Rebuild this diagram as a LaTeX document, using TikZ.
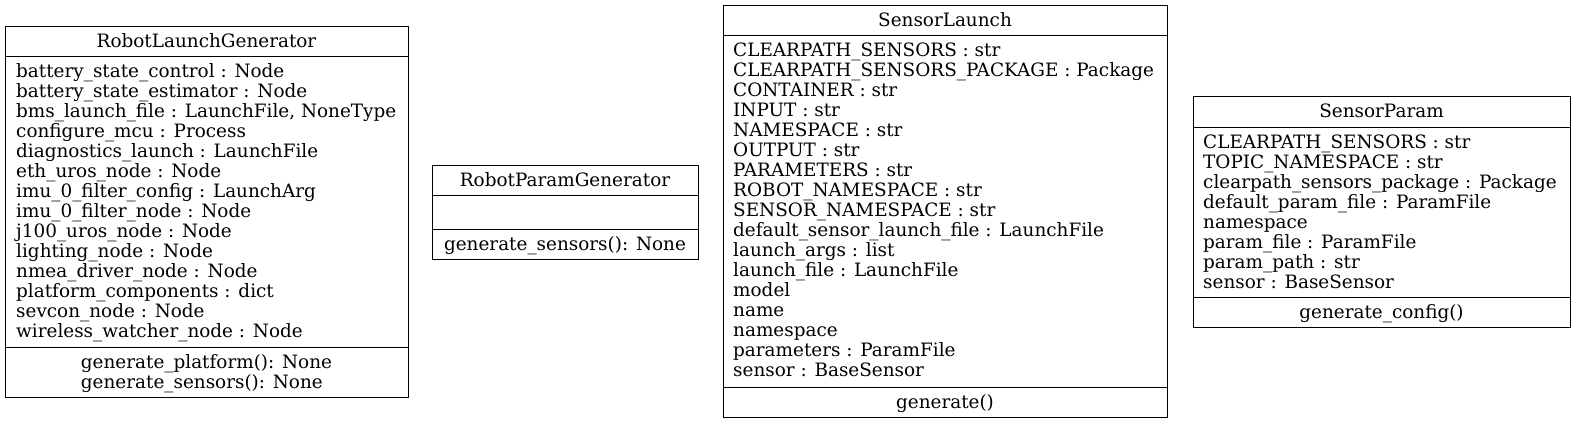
\documentclass[tikz,border=0pt]{standalone}
\usepackage{fontspec}
\setmainfont{DejaVu Serif}
\newcommand\umlfs{\fontsize{18.4}{20}\selectfont}
\tikzset{
  cls/.style={draw=black, line width=1pt, inner sep=0pt, anchor=north west},
  sepline/.style={draw=black, line width=1pt},
  txt/.style={inner sep=0pt, font=\umlfs},
}
\begin{document}
\begin{tikzpicture}[x=1pt,y=-1pt]
\useasboundingbox (0,0) rectangle (1575,424);

% ---------- RobotLaunchGenerator ----------
\node[cls, minimum width=403pt, minimum height=371pt] (b1) at (5,26) {};
\coordinate (s1a) at (5,56);
\coordinate (s1b) at (5,347);
\draw[sepline] (s1a) -- (s1a -| b1.east);
\draw[sepline] (s1b) -- (s1b -| b1.east);
\node[txt, anchor=base] (t1) at (206.5,47) {RobotLaunchGenerator};
\node[txt, anchor=base west] (a1) at (16,77) {\begin{tabular}[t]{@{}l@{}}
battery\_state\_control : Node\\
battery\_state\_estimator : Node\\
bms\_launch\_file : LaunchFile, NoneType\\
configure\_mcu : Process\\
diagnostics\_launch : LaunchFile\\
eth\_uros\_node : Node\\
imu\_0\_filter\_config : LaunchArg\\
imu\_0\_filter\_node : Node\\
j100\_uros\_node : Node\\
lighting\_node : Node\\
nmea\_driver\_node : Node\\
platform\_components : dict\\
sevcon\_node : Node\\
wireless\_watcher\_node : Node
\end{tabular}};
\node[txt, anchor=base] (m1) at (206.5,368) {\begin{tabular}[t]{@{}l@{}}
generate\_platform(): None\\
generate\_sensors(): None
\end{tabular}};

% ---------- RobotParamGenerator ----------
\node[cls, minimum width=266pt, minimum height=94pt] (b2) at (432,165) {};
\coordinate (s2a) at (432,195);
\coordinate (s2b) at (432,229);
\draw[sepline] (s2a) -- (s2a -| b2.east);
\draw[sepline] (s2b) -- (s2b -| b2.east);
\node[txt, anchor=base] (t2) at (565,186) {RobotParamGenerator};
\node[txt, anchor=base] (m2) at (565,250) {generate\_sensors(): None};

% ---------- SensorLaunch ----------
\node[cls, minimum width=444pt, minimum height=412pt] (b3) at (723,5) {};
\coordinate (s3a) at (723,35);
\coordinate (s3b) at (723,387);
\draw[sepline] (s3a) -- (s3a -| b3.east);
\draw[sepline] (s3b) -- (s3b -| b3.east);
\node[txt, anchor=base] (t3) at (945,26) {SensorLaunch};
\node[txt, anchor=base west] (a3) at (733,56) {\begin{tabular}[t]{@{}l@{}}
CLEARPATH\_SENSORS : str\\
CLEARPATH\_SENSORS\_PACKAGE : Package\\
CONTAINER : str\\
INPUT : str\\
NAMESPACE : str\\
OUTPUT : str\\
PARAMETERS : str\\
ROBOT\_NAMESPACE : str\\
SENSOR\_NAMESPACE : str\\
default\_sensor\_launch\_file : LaunchFile\\
launch\_args : list\\
launch\_file : LaunchFile\\
model\\
name\\
namespace\\
parameters : ParamFile\\
sensor : BaseSensor
\end{tabular}};
\node[txt, anchor=base] (m3) at (945,408) {generate()};

% ---------- SensorParam ----------
\node[cls, minimum width=377pt, minimum height=231pt] (b4) at (1193,96) {};
\coordinate (s4a) at (1193,127);
\coordinate (s4b) at (1193,297);
\draw[sepline] (s4a) -- (s4a -| b4.east);
\draw[sepline] (s4b) -- (s4b -| b4.east);
\node[txt, anchor=base] (t4) at (1381.5,117) {SensorParam};
\node[txt, anchor=base west] (a4) at (1203,148) {\begin{tabular}[t]{@{}l@{}}
CLEARPATH\_SENSORS : str\\
TOPIC\_NAMESPACE : str\\
clearpath\_sensors\_package : Package\\
default\_param\_file : ParamFile\\
namespace\\
param\_file : ParamFile\\
param\_path : str\\
sensor : BaseSensor
\end{tabular}};
\node[txt, anchor=base] (m4) at (1381.5,318) {generate\_config()};
\end{tikzpicture}
\end{document}
